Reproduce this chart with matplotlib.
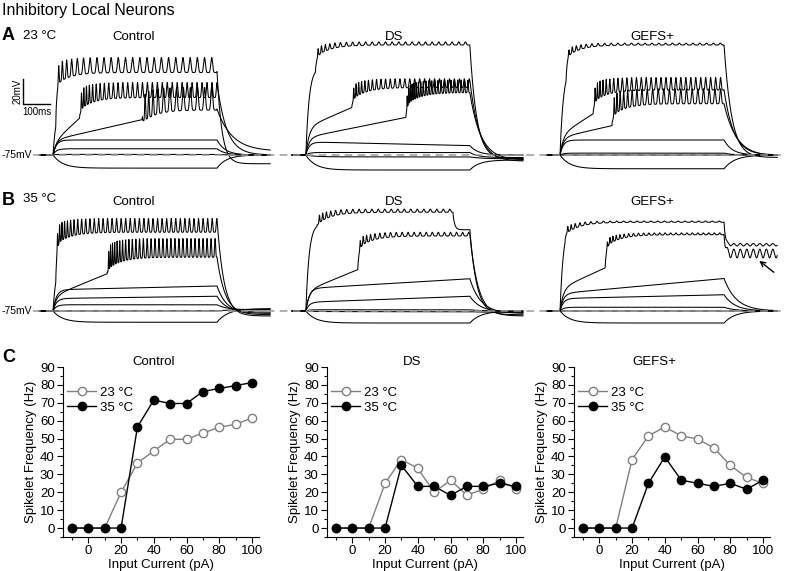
import numpy as np
import matplotlib
matplotlib.use("Agg")
import matplotlib.pyplot as plt
from matplotlib.ticker import MultipleLocator

plt.rcParams['font.family'] = ['Liberation Sans', 'DejaVu Sans']

W, H = 785, 571

# ---- panel C data: spikelet frequency vs input current
current = [-10, 0, 10, 20, 30, 40, 50, 60, 70, 80, 90, 100]
ctrl_23_hz = [0, 0, 0, 20, 36.3, 43.1, 49.6, 49.6, 53.1, 56.3, 58, 61.5]
ctrl_35_hz = [0, 0, 0, 0, 56.5, 71.5, 69.6, 69.6, 76.3, 78, 79.6, 81.3]
ds_23_hz = [0, 0, 0, 25, 38.3, 33.3, 20, 26.7, 18.4, 21.7, 26.7, 21.7]
ds_35_hz = [0, 0, 0, 0, 35, 23.3, 23.3, 18.3, 23.3, 23.3, 25, 23.3]
gefs_23_hz = [0, 0, 0, 38.3, 51.5, 56.5, 51.5, 49.8, 44.8, 35, 28.3, 25]
gefs_35_hz = [0, 0, 0, 0, 25, 39.8, 26.8, 25, 23.3, 25, 21.7, 26.7]

# ---- panels A/B: voltage traces (mV above -75 mV rest)
# (pre, ramp/100ms, jump ms, trough, spike amp, spike Hz, tail, tail tau[, stop, stop level, tail ripple])
ctrl_23 = [(40, 0, 10, 66, 12, 38, -7, 18),
           (10, 20, 97, 46, 12, 55, 0, 35),
           (12, 5, 326, 36, 18, 38, 3, 55),
           (12, 0, None, 0, 0, 0, 0, 30),
           (5, 0, None, 0, 0, 0, 0, 30),
           (0.5, 0, None, 0, 0, 0, 0, 30),
           (-10.5, 0, None, 0, 0, 0, 0, 35)]
ds_23 = [(70, 0, 35, 88, 2.5, 41, -3, 25),
         (22, 9.5, 168, 54, 7, 55, -5, 35),
         (14, 4.4, 366, 50, 10, 80, -4, 40),
         (10.5, -0.5, None, 0, 0, 0, 0, 30),
         (2, 0, None, 0, 0, 0, -2, 30),
         (-1.5, 0, None, 0, 0, 0, -3, 40),
         (-12, 0, None, 0, 0, 0, -4, 35)]
gefs_23 = [(70, 0, 22, 88, 1.5, 40, -2, 28),
           (16, 14, 121, 52, 10, 55, 0, 35),
           (14, 5, 190, 41, 12, 48, -1, 45),
           (12, 0, None, 0, 0, 0, 0, 30),
           (1.5, 0, None, 0, 0, 0, 0, 30),
           (0, 0, None, 0, 0, 0, 0, 30),
           (-11, 0, None, 0, 0, 0, 0, 40)]
ctrl_35 = [(40, 0, 10, 63, 11, 60, -4, 25),
           (12, 9, 198, 43, 15, 68, -3, 30),
           (17, 0.5, None, 0, 0, 0, -2, 35),
           (10, 0.3, None, 0, 0, 0, -1, 35),
           (5, 0, None, 0, 0, 0, 1, 35),
           (0, 0, None, 0, 0, 0, 1, 35),
           (-9, 0, None, 0, 0, 0, 2, 40)]
ds_35 = [(70, 0, 40, 79, 2.5, 42, -3, 25, 538, 65),
         (16, 9, 190, 60, 3, 45, -4, 30),
         (18, 1.3, None, 0, 0, 0, -2, 40),
         (7, 0.8, None, 0, 0, 0, -1, 40),
         (1, 0, None, 0, 0, 0, 0, 40),
         (-0.5, 0, None, 0, 0, 0, -1, 40),
         (-9.6, 0, None, 0, 0, 0, 0, 40)]
gefs_35 = [(70, 0, 18, 71, 1, 40, 53, 5, None, None, 1),
           (18, 10, 165, 61, 1.5, 50, 46, 5, None, None, 3.5),
           (14, 2, None, 0, 0, 0, 0, 45),
           (10, 0.5, None, 0, 0, 0, 0, 40),
           (3, 0, None, 0, 0, 0, 0, 40),
           (0, 0, None, 0, 0, 0, 0, 40),
           (-9.6, 0, None, 0, 0, 0, 0, 40)]

STEP_MS = 600
PX_PER_MS = 164 / 600.0
PX_PER_MV = 1.25
panel_offsets = [0, 925, 1855]   # ms, step onset of Control / DS / GEFS+


def trace(t, pre, ramp, jump=None, top=0, spk=0, hz=0, tail=0, off=30,
          stop=None, stop_lvl=None, tail_spk=0):
    dt_ms = t[1] - t[0]
    tt = np.clip(t, 0, None)
    tau_on = 12 if pre >= 0 else 35
    base = pre * (1 - np.exp(-tt / tau_on)) + ramp * tt / 100
    v = base.copy()
    if jump is not None:
        on = t >= jump
        d = np.clip(t - jump, 0, None)
        rate = hz * (1 + 1.5 * np.exp(-d / 40)) * on
        phase = 2 * np.pi * np.cumsum(rate) * dt_ms / 1000
        amp = spk + 5 * np.exp(-d / 60)
        trough = top - 10 * np.exp(-d / 50)
        spiking = trough + amp * ((1 + np.cos(phase)) / 2) ** 3
        b = np.where(on, 1 - np.exp(-d / 4), 0)
        v = (1 - b) * base + b * spiking
    v[t < 0] = 0
    if stop is not None:
        i = np.searchsorted(t, stop)
        after = (t >= stop) & (t < STEP_MS)
        v[after] = stop_lvl + (v[i - 1] - stop_lvl) * np.exp(-(t[after] - stop) / 6)
    i = np.searchsorted(t, STEP_MS)
    v_end = v[i - 1]
    after = t >= STEP_MS
    d = t[after] - STEP_MS
    v[after] = tail + (v_end - tail) * np.exp(-d / off)
    if tail_spk:
        v[after] += -tail_spk * np.cos(2 * np.pi * 42 * d / 1000) * (1 - np.exp(-d / 4))
    return v


fig = plt.figure(figsize=(W / 100, H / 100), dpi=100)


def fx(x):
    return x / W


def fy(y):
    return 1 - y / H


t = np.arange(-50, 795, 0.5)
x_lo = -53 / PX_PER_MS
x_hi = x_lo + W / PX_PER_MS

rows = [(40, 185, 155, [ctrl_23, ds_23, gefs_23]),
        (195, 340, 311, [ctrl_35, ds_35, gefs_35])]

for r, (y_top, y_bot, y_base, panels) in enumerate(rows):
    ax = fig.add_axes([0, fy(y_bot), 1, (y_bot - y_top) / H])
    ax.set_xlim(x_lo, x_hi)
    ax.set_ylim(-75 - (y_bot - y_base) / PX_PER_MV, -75 + (y_base - y_top) / PX_PER_MV)
    ax.axis('off')
    for off, traces in zip(panel_offsets, panels):
        for p in traces:
            ax.plot(t + off, trace(t, *p) - 75, color='black', lw=0.75)
    ax.plot([-73, x_hi], [-75, -75], color='#9a9a9a', lw=1.1, dashes=(5, 3.5), zorder=5)
    ax.text(x_lo + 2 / PX_PER_MS, -75, '-75mV', fontsize=7.5, ha='left', va='center')
    if r == 0:
        # scale bar 100 ms / 20 mV
        ax.plot([-110, -110, -10], [-14, -34, -34], color='black', lw=1)
        ax.text(-128, -24, '20mV', rotation=90, fontsize=7, ha='center', va='center')
        ax.text(-60, -36.5, '100ms', fontsize=7, ha='center', va='top')

# arrow in GEFS+ 35 °C panel
fig.add_artist(matplotlib.patches.FancyArrowPatch(
    (fx(776), fy(274)), (fx(757), fy(259)), transform=fig.transFigure,
    arrowstyle='->', mutation_scale=9, lw=1, color='black'))

fig.text(fx(2), fy(10), 'Inhibitory Local Neurons', fontsize=11.5, va='center')
for lab, y in [('A', 35), ('B', 200), ('C', 358)]:
    fig.text(fx(2), fy(y), lab, fontsize=13, fontweight='bold', va='center')
fig.text(fx(23), fy(36), '23 °C', fontsize=9.5, va='center')
fig.text(fx(23), fy(199), '35 °C', fontsize=9.5, va='center')
for name, x in [('Control', 134), ('DS', 394), ('GEFS+', 652)]:
    fig.text(fx(x), fy(37.5), name, fontsize=9.5, ha='center', va='center')
    fig.text(fx(x), fy(202), name, fontsize=9.5, ha='center', va='center')

# ---- panel C
c_panels = [(63, 154, 'Control', ctrl_23_hz, ctrl_35_hz),
            (327, 412, 'DS', ds_23_hz, ds_35_hz),
            (574, 654, 'GEFS+', gefs_23_hz, gefs_35_hz)]
x_min, x_max = -15.5, 104.5
px_per_pa = 1.636
for left, tx, name, y23, y35 in c_panels:
    ax = fig.add_axes([fx(left), fy(537), (x_max - x_min) * px_per_pa / W, 170 / H])
    ax.plot(current, y23, '-o', color='#808080', mfc='white', mec='#808080',
            ms=6, mew=1, lw=1, label='23 °C', zorder=2)
    ax.plot(current, y35, '-o', color='black', mfc='black', mec='black',
            ms=6, mew=1, lw=1, label='35 °C', zorder=3)
    ax.set_xlim(x_min, x_max)
    ax.set_ylim(-5, 90)
    ax.spines['top'].set_visible(False)
    ax.spines['right'].set_visible(False)
    ax.xaxis.set_major_locator(MultipleLocator(20))
    ax.xaxis.set_minor_locator(MultipleLocator(10))
    ax.yaxis.set_major_locator(MultipleLocator(10))
    ax.yaxis.set_minor_locator(MultipleLocator(5))
    ax.set_xticks([0, 20, 40, 60, 80, 100])
    ax.tick_params(which='major', direction='out', length=4, width=0.8, labelsize=9.5, pad=2)
    ax.tick_params(which='minor', direction='out', length=2, width=0.8)
    ax.set_xlabel('Input Current (pA)', fontsize=9.5, labelpad=1)
    ax.set_ylabel('Spikelet Frequency (Hz)', fontsize=9.5, labelpad=2)
    ax.legend(loc='upper left', bbox_to_anchor=(-0.02, 0.93), frameon=False, fontsize=9.5,
              handlelength=2.2, handletextpad=0.3, labelspacing=0.2, borderaxespad=0.2)
    fig.text(fx(tx), fy(362), name, fontsize=9.5, ha='center', va='center')

fig.savefig('out.png', dpi=100)
